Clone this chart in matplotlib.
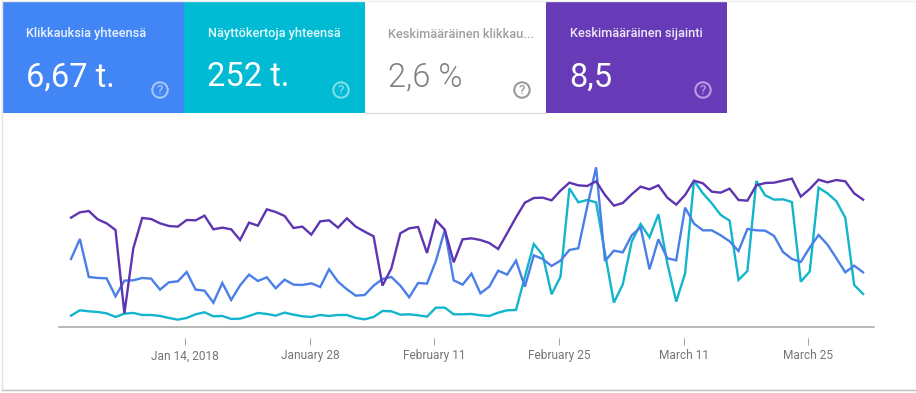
import numpy as np
import pandas as pd
from matplotlib import pyplot as plt
from matplotlib.patches import Rectangle, Circle

plt.rcParams['font.family'] = ['Roboto', 'DejaVu Sans']

W, H = 916, 393

# Daily values, 1 Jan - 31 Mar 2018 (relative scale, the chart has no y axis)
position = [329,345,349,324,312,292,42,237,328,325,312,304,302,322,321,335,294,299,294,262,314,305,354,
            346,334,298,302,278,318,321,299,327,302,287,273,125,177,282,297,301,223,321,293,195,264,267,
            262,253,235,282,330,374,388,389,381,410,434,426,424,438,397,365,373,399,422,414,426,
            389,368,397,440,432,407,404,416,382,380,426,433,434,440,446,392,415,443,435,442,438,402,383]
clicks = [205,265,151,148,147,93,140,141,148,146,113,135,138,166,113,110,74,133,82,126,158,139,150,
          117,143,128,127,132,121,174,137,114,95,97,125,145,151,125,90,133,131,199,292,141,128,161,
          102,122,170,158,200,122,216,205,184,200,232,237,362,480,199,230,225,276,300,174,264,
          207,201,359,311,291,291,276,258,229,295,291,290,274,226,205,196,239,277,248,207,165,185,165]
impressions = [35,51,48,46,42,31,41,43,37,37,34,28,23,28,39,45,33,34,25,26,34,43,40,
               35,44,38,33,31,37,34,37,37,28,24,31,49,48,38,39,36,32,59,59,39,39,40,
               36,34,44,51,52,152,250,217,99,152,417,375,382,375,222,74,129,257,310,270,339,
               192,77,162,440,402,372,337,320,142,169,439,396,383,384,376,137,167,419,402,378,329,127,100]

tick_dates = ["2018-01-14", "2018-01-28", "2018-02-11", "2018-02-25", "2018-03-11", "2018-03-25"]
tick_labels = ["Jan 14, 2018", "January 28", "February 11", "February 25", "March 11", "March 25"]

card_titles = ["Klikkauksia yhteensä", "Näyttökertoja yhteensä", "Keskimääräinen klikkau...", "Keskimääräinen sijainti"]
card_values = ["6,67 t.", "252 t.", "2,6 %", "8,5"]
card_edges = [3, 184, 365, 546, 727]
card_colors = ["#4285F4", "#00BBD3", "#FFFFFF", "#673AB7"]
title_colors = ["#E8F0FE", "#E0F7FA", "#A0A0A0", "#EDE7F6"]
value_colors = ["#FFFFFF", "#FFFFFF", "#808080", "#FFFFFF"]
icon_colors = ["#A6C6FA", "#80DDE9", "#9A9A9A", "#B79BE3"]

fig = plt.figure(figsize=(W/100, H/100), dpi=100)

# overlay in pixel coordinates for the cards and frame
bg = fig.add_axes([0, 0, 1, 1])
bg.set_xlim(0, W)
bg.set_ylim(H, 0)
bg.axis("off")

bg.plot([2, 2], [0, 390], color="#E4E4E4", lw=1)
bg.plot([2, W], [390, 390], color="#BDBDBD", lw=1)
bg.plot([2, W], [1, 1], color="#EEEEEE", lw=1)
bg.plot([365, 546], [113, 113], color="#E0E0E0", lw=1)

for i in range(4):
    x0, x1 = card_edges[i], card_edges[i+1]
    bg.add_patch(Rectangle((x0, 2), x1-x0, 111, color=card_colors[i], lw=0))
    bg.text(x0+23.5, 34, card_titles[i], color=title_colors[i], fontsize=9.2, weight=500, va="center")
    bg.text(x0+23, 77.5, card_values[i], color=value_colors[i], fontsize=23.5, weight=300 if i == 2 else 400, va="center")
    cx = x0+157
    bg.add_patch(Circle((cx, 90), 7.7, fill=False, ec=icon_colors[i], lw=1.5))
    bg.text(cx, 90.3, "?", color=icon_colors[i], fontsize=9.5, weight=500, ha="center", va="center")

# line chart, day 0 sits at x=71, 8.9 px per day
x_left, x_right, y_top, y_base = 59, 874.5, 160, 327.3
ax = fig.add_axes([x_left/W, 1-y_base/H, (x_right-x_left)/W, (y_base-y_top)/H])
ax.patch.set_alpha(0)

dates = pd.date_range("2018-01-01 04:00", periods=90, freq="D")
ax.plot(dates, impressions, color="#12B5CB", lw=1.7, solid_joinstyle="miter")
ax.plot(dates, clicks, color="#4A7FE8", lw=1.7, solid_joinstyle="miter")
ax.plot(dates, position, color="#5E35B1", lw=1.7, solid_joinstyle="miter")

start = dates[0] - pd.Timedelta(days=12/8.9)
ax.set_xlim(start, start + pd.Timedelta(days=(x_right-x_left)/8.9))
ax.set_ylim(0, 502)
ax.set_yticks([])
ax.axhline(0, color="#A6A6A6", lw=1.1, clip_on=False)

for s in ["top", "left", "right"]:
    ax.spines[s].set_visible(False)
ax.spines["bottom"].set_position(("outward", 7.6))
ax.spines["bottom"].set_visible(False)
ax.set_xticks(pd.to_datetime(tick_dates))
ax.set_xticklabels(tick_labels)
ax.tick_params(axis="x", length=4.8, width=0.7, color="#9E9E9E", labelcolor="#757575", labelsize=8.6, pad=3.5)

fig.savefig("out.png", dpi=100)
